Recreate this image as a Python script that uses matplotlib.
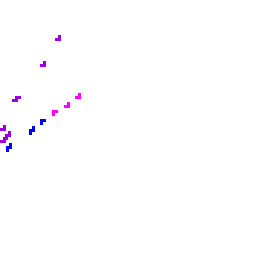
import matplotlib
matplotlib.use("Agg")
import matplotlib.pyplot as plt
import numpy as np
from matplotlib.path import Path

# ------------------------------
# Data (pixel-like units, y grows downward)
# ------------------------------
x_vals = [58.0, 43.0, 15.5, 78.0, 67.0, 55.0, 43.0, 32.0, 3.0, 7.5, 3.0, 8.5]
y_vals = [37.5, 64.0, 99.0, 96.0, 104.5, 113.0, 122.0, 129.5, 127.5, 134.5, 140.0, 146.5]
groups = ["b", "b", "b", "c", "c", "c", "a", "a", "b", "b", "b", "a"]
shapes = ["J", "J", "S", "J", "J", "G", "G", "Z", "J", "Z", "J", "Z"]

colors = {"a": "#0000ff", "b": "#a000e0", "c": "#ff00ff"}

# block-unit polygons
shape_verts = {
    "J": [(-1, -1), (1, -1), (1, 1), (0, 1), (0, 0), (-1, 0)],
    "G": [(-1, 1), (1, 1), (1, 0), (0, 0), (0, -1), (-1, -1)],
    "S": [(-1.5, -1), (0.5, -1), (0.5, 0), (1.5, 0), (1.5, 1), (-0.5, 1), (-0.5, 0), (-1.5, 0)],
    "Z": [(0, 1.5), (1, 1.5), (1, -0.5), (0, -0.5), (0, -1.5), (-1, -1.5), (-1, 0.5), (0, 0.5)],
}

block_px = 3.0
dpi = 100

fig = plt.figure(figsize=(2.56, 2.56), dpi=dpi)
ax = fig.add_axes([0, 0, 1, 1])
ax.set_xlim(0, 256)
ax.set_ylim(256, 0)
ax.axis("off")

for xv, yv, g, sh in zip(x_vals, y_vals, groups, shapes):
    verts = shape_verts[sh]
    path = Path(verts + [verts[0]], closed=True)
    ext = np.max(np.abs(np.array(verts)))
    ms = 2 * ext * block_px * 72.0 / dpi
    ax.plot([xv], [yv], linestyle="none", marker=path, markersize=ms,
            color=colors[g], markeredgewidth=0, antialiased=False)

fig.savefig("out.png", dpi=dpi, facecolor="white")
